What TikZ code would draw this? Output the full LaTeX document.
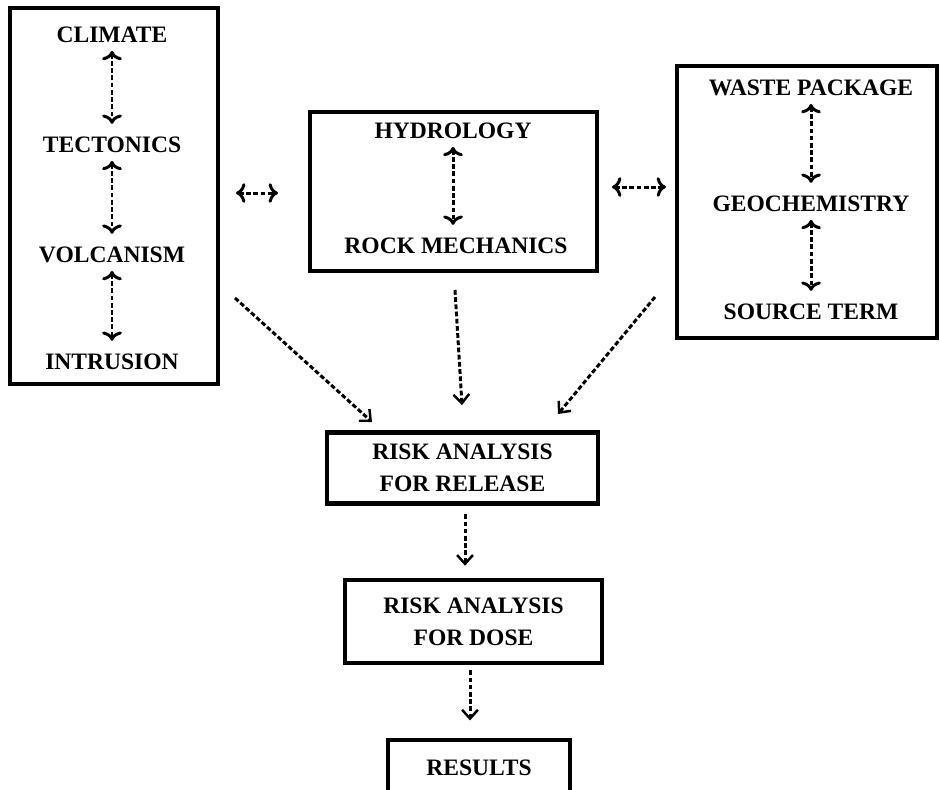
\documentclass[tikz, border = 0pt]{standalone}
\usepackage{fontspec}
\setmainfont{Liberation Serif}
\usetikzlibrary{arrows.meta}

\begin{document}
\begin{tikzpicture}[
        every node/.style = {font = \fontsize{13.4}{18}\selectfont\bfseries, align = center},
        frame/.style = {draw, line width = 2.3pt},
        link/.style = {line width = 1.7pt, dash pattern = on 2.7pt off 1.4pt,
            arrows = {-Straight Barb[length = 5pt, width = 9pt, line width = 1.4pt]}},
        pair/.style = {link, <->, shorten < = 1pt, shorten > = 4pt}]
    \useasboundingbox (0, 0) rectangle (18.8, -15.78);
        \draw[frame] (0.2, -0.16) rectangle (4.36, -7.68);
            \node (climate) at (2.24, -0.70) {CLIMATE};
            \node (tectonics) at (2.24, -2.90) {TECTONICS};
            \node (volcanism) at (2.24, -5.10) {VOLCANISM};
            \node (intrusion) at (2.24, -7.24) {INTRUSION};
            \draw[pair] (climate) -- (tectonics);
            \draw[pair] (tectonics) -- (volcanism);
            \draw[pair] (volcanism) -- (intrusion);
        \draw[frame] (6.2, -2.24) rectangle (11.94, -5.42);
            \node (hydrology) at (9.06, -2.62) {HYDROLOGY};
            \node (rockmech) at (9.12, -4.92) {ROCK MECHANICS};
            \draw[pair] (hydrology) -- (hydrology |- rockmech.north);
        \draw[frame] (13.54, -1.32) rectangle (18.74, -6.76);
            \node (waste) at (16.22, -1.76) {WASTE PACKAGE};
            \node (geochem) at (16.22, -4.08) {GEOCHEMISTRY};
            \node (source) at (16.22, -6.24) {SOURCE TERM};
            \draw[pair] (waste) -- (geochem);
            \draw[pair] (geochem) -- (source);
        \coordinate (leftlink) at (4.72, -3.86);
        \coordinate (midlink) at (5.56, -3.86);
        \coordinate (midlink2) at (12.24, -3.74);
        \coordinate (rightlink) at (13.32, -3.74);
        \draw[link, <->] (leftlink) -- (midlink);
        \draw[link, <->] (midlink2) -- (rightlink);
        \node[frame, minimum width = 5.42cm, minimum height = 1.42cm]
            (release) at (9.25, -9.36) {RISK ANALYSIS \\ FOR RELEASE};
        \node[frame, minimum width = 5.14cm, minimum height = 1.66cm]
            (dose) at (9.47, -12.43) {RISK ANALYSIS \\ FOR DOSE};
        \node[frame, minimum width = 3.64cm, minimum height = 1.12cm]
            (results) at (9.58, -15.36) {RESULTS};
        \coordinate (fromleft) at (4.7, -5.96);
        \coordinate (intoleft) at (7.44, -8.44);
        \coordinate (frommid) at (9.1, -5.8);
        \coordinate (intomid) at (9.24, -8.1);
        \coordinate (fromright) at (13.1, -5.94);
        \coordinate (intoright) at (11.16, -8.28);
        \draw[link] (fromleft) -- (intoleft);
        \draw[link] (frommid) -- (intomid);
        \draw[link] (fromright) -- (intoright);
        \draw[link, shorten < = 5pt, shorten > = 7pt]
            ([xshift = 0.05cm] release.south) -- ([xshift = 0.05cm] release.south |- dose.north);
        \draw[link, shorten < = 3pt, shorten > = 10pt]
            ([xshift = -0.07cm] dose.south) -- ([xshift = -0.07cm] dose.south |- results.north);
\end{tikzpicture}
\end{document}
